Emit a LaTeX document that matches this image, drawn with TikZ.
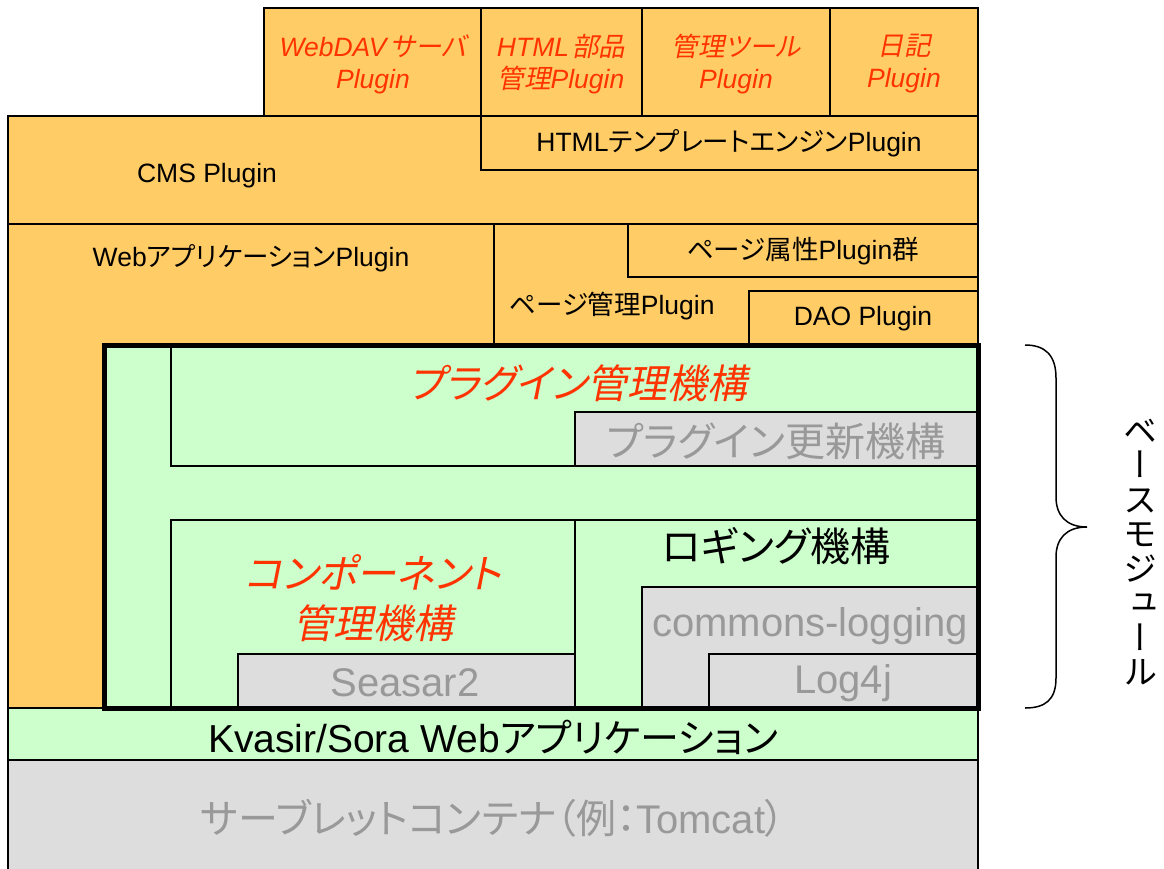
\documentclass[tikz,border=0pt]{standalone}
\usepackage{fontspec}
\setmainfont{Liberation Sans}
\newfontfamily\cjk[RawFeature=+palt]{Noto Sans CJK JP}
\newfontfamily\cjkit[RawFeature=+palt,FakeSlant=0.2]{Noto Sans CJK JP}
\newfontfamily\cjkv[RawFeature=+vert]{Noto Sans CJK JP}
\newcommand\J[1]{{\cjk #1}}
\newcommand\JI[1]{{\cjkit #1}}
\definecolor{orng}{HTML}{FFCC66}
\definecolor{grn}{HTML}{CCFFCC}
\definecolor{gry}{HTML}{DDDDDD}
\definecolor{redtxt}{HTML}{FF3300}
\definecolor{graytxt}{HTML}{999999}
\begin{document}
\begin{tikzpicture}[x=1pt,y=-1pt,
  box/.style={draw=black,line width=1.3pt},
  frame/.style={draw=black,line width=5pt},
  lbl/.style={inner sep=0pt,align=center},
  small/.style={lbl,font=\fontsize{26.5}{32}\selectfont},
  smallit/.style={small,text=redtxt,font=\fontsize{26.5}{32}\selectfont\itshape},
  big/.style={lbl,font=\fontsize{40}{50}\selectfont},
  bigit/.style={big,text=redtxt,font=\fontsize{40}{50}\selectfont\itshape},
  biggray/.style={big,text=graytxt}]
\useasboundingbox (0,0) rectangle (1164,868);
\fill[white] (0,0) rectangle (1164,868);
% top plugins
\draw[box,fill=orng] (264,8) rectangle (481,116);
\draw[box,fill=orng] (481,8) rectangle (642,116);
\draw[box,fill=orng] (642,8) rectangle (830,116);
\draw[box,fill=orng] (830,8) rectangle (978,116);
\draw[box,fill=orng] (8,116) rectangle (978,224);
\draw[box,fill=orng] (481,116) rectangle (978,170);
\draw[box,fill=orng] (8,224) rectangle (978,708);
\draw[box,fill=orng] (494,224) rectangle (978,345);
\draw[box,fill=orng] (628,224) rectangle (978,277);
\draw[box,fill=orng] (749,291) rectangle (978,345);
% base module
\fill[grn] (104,345) rectangle (978,708);
\draw[box,fill=grn] (171,345) rectangle (978,466);
\draw[box,fill=gry] (575,412) rectangle (978,466);
\draw[box,fill=grn] (171,520) rectangle (575,708);
\draw[box,fill=gry] (238,654) rectangle (575,708);
\draw[box,fill=grn] (575,520) rectangle (978,708);
\draw[box,fill=gry] (642,587) rectangle (978,708);
\draw[box,fill=gry] (709,654) rectangle (978,708);
% bottom layers
\draw[box,fill=grn] (8,708) rectangle (978,760);
\draw[box,fill=gry] (8,760) rectangle (978,890);
\draw[frame] (104,345) rectangle (978,708);
% labels
\node[smallit] (webdav) at (373,64) {WebDAV\hspace{4pt}\JI{サーバ}\\Plugin};
\node[smallit] (htmlparts) at (561,64) {HTML\hspace{3pt}\JI{部品}\\\JI{管理}Plugin};
\node[smallit] (tool) at (736,64) {\JI{管理ツール}\\Plugin};
\node[smallit] (diary) at (904,64) {\JI{日記}\\Plugin};
\node[small] (cms) at (207,176) {CMS Plugin};
\node[small] (tmpl) at (729,143) {HTML\J{テンプレートエンジン}Plugin};
\node[small] (webapp) at (251,258) {Web\J{アプリケーション}Plugin};
\node[small] (attr) at (803,251) {\J{ページ属性}Plugin\J{群}};
\node[small] (page) at (612,306) {\J{ページ管理}Plugin};
\node[small] (dao) at (863,319) {DAO Plugin};
\node[bigit] (plugmgr) at (578,383) {\JI{プラグイン管理機構}};
\node[biggray] (plugupd) at (776,441) {\J{プラグイン更新機構}};
\node[bigit] (compmgr) at (373,598) {\JI{コンポーネント}\\\JI{管理機構}};
\node[biggray] (seasar) at (405,683) {Seasar2};
\node[big] (logging) at (776,546) {\J{ロギング機構}};
\node[biggray] (commons) at (810,626) {commons-logging};
\node[biggray] (log4j) at (843,683) {Log4j};
\node[lbl,font=\fontsize{39}{44}\selectfont] (kvasir) at (493,737) {Kvasir/Sora Web\J{アプリケーション}};
\node[lbl,text=graytxt,font=\fontsize{40}{44}\selectfont] (servlet) at (493,818) {\J{サーブレットコンテナ（例：}Tomcat\J{）}};
% brace
\coordinate (bt) at (1025,345);
\coordinate (bb) at (1025,708);
\coordinate (tip) at (1087,527);
\draw[line width=1.5pt] (bt) .. controls (1045,345) and (1056,355) .. (1056,378) -- (1056,497)
  .. controls (1056,515) and (1066,527) .. (tip)
  .. controls (1066,527) and (1056,539) .. (1056,557) -- (1056,678)
  .. controls (1056,700) and (1045,708) .. (bb);
\node[lbl,font=\fontsize{34}{34.5}\selectfont\cjkv] (base) at (1140,552) {ベ\\ー\\ス\\モ\\ジ\\ュ\\ー\\ル};
\end{tikzpicture}
\end{document}
